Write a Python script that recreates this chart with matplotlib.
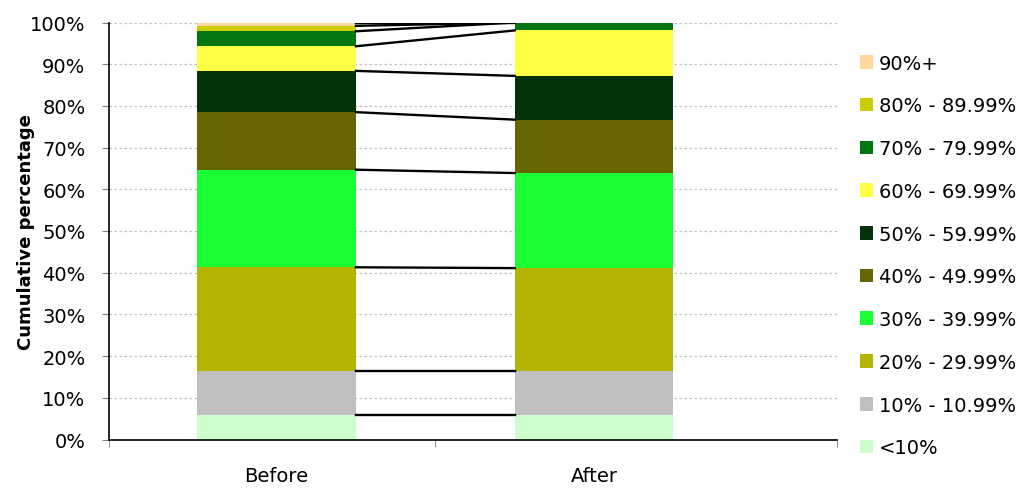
import numpy as np
import matplotlib
matplotlib.use("Agg")
import matplotlib.pyplot as plt
from matplotlib.patches import Patch
from matplotlib.ticker import PercentFormatter

# share of each band, bottom to top (percent)
categories = ['Before', 'After']
bands = ['<10%', '10% - 10.99%', '20% - 29.99%', '30% - 39.99%', '40% - 49.99%',
         '50% - 59.99%', '60% - 69.99%', '70% - 79.99%', '80% - 89.99%', '90%+']
before = [5.8, 10.6, 24.9, 23.4, 13.8, 9.9, 5.9, 3.6, 1.3, 0.8]
after = [5.8, 10.6, 24.7, 22.8, 12.8, 10.5, 10.9, 1.9, 0.0, 0.0]
colors = ['#ccffcc', '#c0c0c0', '#b3b300', '#1aff33', '#666600',
          '#00330a', '#ffff44', '#007711', '#cccc00', '#ffd89a']

plt.rcParams['font.family'] = ['DejaVu Sans']
plt.rcParams['font.size'] = 14

fig = plt.figure(figsize=(10.19, 4.89), dpi=100)
ax = fig.add_axes([109 / 1019, 1 - 440.5 / 489, 728 / 1019, 417 / 489])

x = np.arange(len(categories))
width = 0.5
vals = np.array([before, after])
bottoms = np.zeros(len(categories))
for i in range(len(bands)):
    ax.bar(x, vals[:, i], width, bottom=bottoms, color=colors[i], linewidth=0, zorder=2)
    bottoms = bottoms + vals[:, i]
    # series lines between the two bars
    ax.plot([x[0] + width / 2, x[1] - width / 2], bottoms, color='black', lw=1.7, zorder=3)

ax.set_ylim(0, 100)
ax.set_xlim(-0.5276, 1.765)
ax.yaxis.set_major_locator(plt.MultipleLocator(10))
ax.yaxis.set_major_formatter(PercentFormatter(decimals=0))
ax.grid(axis='y', color='#c0c0c0', linestyle=(0, (2, 2)), lw=0.9, zorder=0)
ax.tick_params(axis='y', length=5, color='#808080', pad=12)

ax.set_xticks(x)
ax.set_xticklabels(categories)
ax.tick_params(axis='x', which='major', length=0, pad=19)
ax.set_xticks([-0.5276, 0.5, 1.765], minor=True)
ax.tick_params(axis='x', which='minor', length=5, color='#808080')

for s in ['top', 'right']:
    ax.spines[s].set_visible(False)
for s in ['left', 'bottom']:
    ax.spines[s].set_color('black')
    ax.spines[s].set_linewidth(1.2)

ax.set_ylabel('Cumulative percentage', fontweight='bold', fontsize=13)
ax.yaxis.set_label_coords(-0.1016, 0.5)

handles = [Patch(facecolor=colors[i], label=bands[i]) for i in range(len(bands))][::-1]
ax.legend(handles=handles, loc='upper left', bbox_to_anchor=(850 / 1019, 1 - 45 / 489),
          bbox_transform=fig.transFigure, frameon=False, labelspacing=1.22,
          handlelength=0.7, handleheight=0.7, handletextpad=0.3, borderpad=0)

fig.savefig('out.png', dpi=100)
